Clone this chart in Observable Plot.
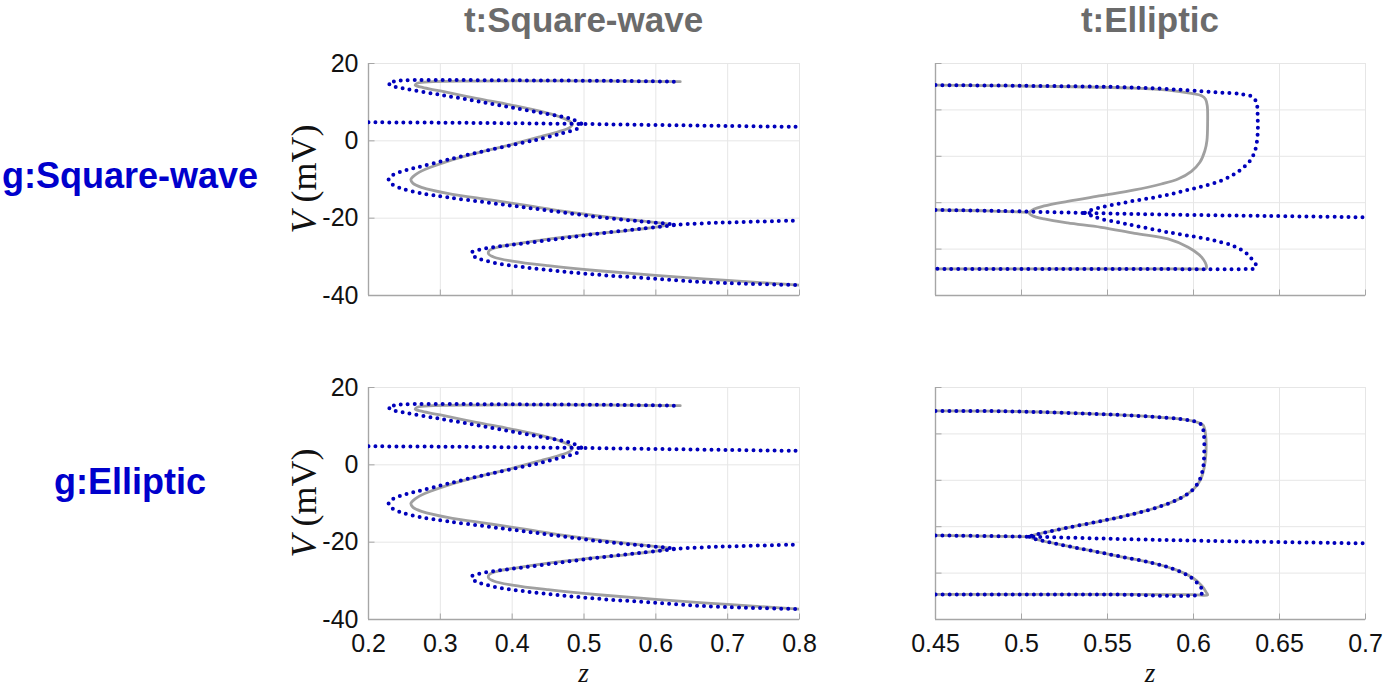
<!DOCTYPE html>
<html>
<head>
<meta charset="utf-8">
<script src="https://cdn.jsdelivr.net/npm/d3@7"></script>
<script src="https://cdn.jsdelivr.net/npm/@observablehq/plot@0.6"></script>
<style>
  html, body { margin: 0; padding: 0; background: #fff; }
  #root { position: relative; width: 1383px; height: 688px; overflow: hidden; background: #fff; }
  #root svg { position: absolute; }
</style>
</head>
<body>
<div id="root"></div>
<script>
// ---------------- labels ----------------
const columnTitles = ["t:Square-wave", "t:Elliptic"];
const rowTitles = ["g:Square-wave", "g:Elliptic"];
const yLabelMain = "V", yLabelUnit = " (mV)", xLabel = "z";

// ---------------- ticks ----------------
const sqXTicks = [0.2, 0.3, 0.4, 0.5, 0.6, 0.7, 0.8];
const sqYTicks = [20, 0, -20, -40];
const elXTicks = [0.45, 0.5, 0.55, 0.6, 0.65, 0.7];
const elYTicks = [20, 10, 0, -10, -20, -30];
const sqXDomain = [0.2, 0.8], sqYDomain = [-40, 20];
const elXDomain = [0.45, 0.7], elYDomain = [-30, 20];

// ---------------- t:Square-wave column (same in both rows) : [z, V] ----------------
const sqBlueUpper = [[0.625,15.3],[0.55,15.5],[0.45,15.6],[0.35,15.7],[0.28,15.75],[0.25,15.65],[0.235,15.35],[0.228,14.9],[0.232,14.3],[0.25,13.5],[0.3,11.9],[0.35,10.3],[0.4,8.6],[0.45,6.9],[0.48,5.8],[0.496,4.5]];
const sqBlueCrossTop = [[0.2,4.8],[0.3,4.7],[0.4,4.55],[0.5,4.35],[0.6,4.1],[0.7,3.85],[0.8,3.6]];
const sqBlueMiddle = [[0.496,4.4],[0.492,3.3],[0.47,2.0],[0.444,0.7],[0.417,-0.4],[0.363,-2.55],[0.31,-4.9],[0.267,-6.9],[0.243,-8.1],[0.231,-9.2],[0.228,-10.0],[0.232,-11.1],[0.2455,-12.3],[0.272,-13.5],[0.31,-14.6],[0.363,-15.9],[0.417,-17.2],[0.47,-18.5],[0.524,-19.8],[0.578,-20.8],[0.625,-21.6]];
const sqBlueCrossLow = [[0.625,-21.7],[0.685,-21.2],[0.8,-20.6]];
const sqBlueLower = [[0.625,-21.8],[0.578,-22.8],[0.524,-23.9],[0.47,-25.2],[0.417,-26.5],[0.374,-27.5],[0.353,-28.2],[0.344,-28.8],[0.345,-29.6],[0.353,-30.4],[0.374,-31.5],[0.417,-32.7],[0.47,-33.8],[0.524,-34.7],[0.578,-35.4],[0.631,-36.1],[0.685,-36.7],[0.8,-37.3]];
const sqGray = [[0.634,15.3],[0.55,15.45],[0.45,15.5],[0.35,15.45],[0.29,15.3],[0.268,14.9],[0.265,14.4],[0.275,13.8],[0.3,12.9],[0.35,11.0],[0.4,9.2],[0.44,7.6],[0.465,6.3],[0.479,5.2],[0.484,4.3],[0.48,3.4],[0.465,2.4],[0.44,1.1],[0.4,-0.9],[0.35,-3.2],[0.31,-5.3],[0.28,-7.3],[0.265,-8.8],[0.259,-10.0],[0.262,-11.0],[0.275,-12.1],[0.31,-13.6],[0.37,-15.3],[0.42,-16.7],[0.47,-18.2],[0.52,-19.4],[0.57,-20.5],[0.605,-21.2],[0.618,-21.6],[0.605,-22.2],[0.56,-23.2],[0.5,-24.3],[0.45,-25.4],[0.41,-26.5],[0.38,-27.5],[0.368,-28.4],[0.367,-29.2],[0.375,-30.1],[0.4,-31.1],[0.45,-32.3],[0.52,-33.6],[0.6,-34.8],[0.7,-36.1],[0.8,-37.3]];

// ---------------- t:Elliptic column, row g:Square-wave ----------------
const elSqBlueUpper = [[0.45,15.34],[0.5,15.2],[0.5658,14.83],[0.595,14.26],[0.6144,13.76],[0.628,13.4],[0.6348,12.68],[0.6368,11.25],[0.6373,8.38],[0.6373,4.79],[0.6358,1.2],[0.6329,-0.95],[0.628,-2.74],[0.6222,-4.18],[0.6144,-5.47],[0.6047,-6.54],[0.595,-7.4],[0.5852,-8.27],[0.5755,-8.98],[0.5658,-9.56],[0.556,-10.27],[0.5463,-10.99],[0.5395,-11.7],[0.5366,-12.21]];
const elSqBlueLower = [[0.5366,-12.21],[0.5405,-12.79],[0.5463,-13.5],[0.556,-14.22],[0.5658,-14.94],[0.5852,-16.37],[0.6047,-17.59],[0.6163,-18.52],[0.6241,-19.46],[0.63,-20.68],[0.6338,-22.11],[0.6364,-23.55],[0.6355,-24.15],[0.631,-24.3],[0.58,-24.3],[0.5,-24.28],[0.45,-24.26]];
const elSqBlueCross = [[0.45,-11.57],[0.488,-11.78],[0.5366,-12.21],[0.5852,-12.57],[0.6436,-12.86],[0.7,-13.14]];
const elSqGray = [[0.45,15.34],[0.5,15.15],[0.5658,14.69],[0.5852,14.26],[0.5988,13.54],[0.6047,13.04],[0.607,12.32],[0.608,10.9],[0.6082,6.94],[0.6078,3.36],[0.6066,1.2],[0.6037,-1.3],[0.5988,-3.24],[0.591,-4.89],[0.5813,-5.97],[0.5658,-7.26],[0.5463,-8.48],[0.5268,-9.7],[0.5132,-10.7],[0.5064,-11.57],[0.5045,-12.21],[0.5064,-12.79],[0.5132,-13.5],[0.5268,-14.36],[0.5463,-15.3],[0.5658,-16.59],[0.5852,-17.8],[0.5969,-19.6],[0.6047,-21.75],[0.6076,-23.9],[0.6072,-24.26],[0.6,-24.26],[0.45,-24.26]];
const elSqGrayCross = [[0.45,-11.57],[0.48,-11.75],[0.5045,-12.1]];

// ---------------- t:Elliptic column, row g:Elliptic ----------------
const elElBlueUpper = [[0.45,14.96],[0.488,14.89],[0.5268,14.53],[0.556,14.1],[0.5774,13.67],[0.593,13.17],[0.6008,12.66],[0.6047,11.94],[0.606,9.93],[0.6062,5.61],[0.6056,2.73],[0.6037,0.22],[0.5998,-1.94],[0.593,-3.74],[0.5813,-5.54],[0.5658,-7.19],[0.5463,-8.78],[0.5268,-10.21],[0.5132,-11.29],[0.5064,-11.87],[0.5045,-12.16]];
const elElBlueLower = [[0.5045,-12.16],[0.5074,-12.59],[0.5171,-13.45],[0.5366,-14.89],[0.556,-16.33],[0.5755,-17.77],[0.5891,-19.21],[0.5988,-21.0],[0.6037,-22.8],[0.6056,-24.03],[0.6037,-24.6],[0.55,-24.6],[0.45,-24.6]];
const elElBlueCross = [[0.45,-11.87],[0.5045,-12.16],[0.5658,-12.73],[0.6241,-13.16],[0.7,-13.6]];
const elElGray = [[0.45,14.96],[0.488,14.89],[0.5268,14.53],[0.556,14.1],[0.5774,13.67],[0.593,13.17],[0.601,12.66],[0.6055,11.94],[0.607,9.93],[0.6072,5.61],[0.6062,2.73],[0.6042,0.22],[0.6,-1.94],[0.593,-3.74],[0.5813,-5.54],[0.5658,-7.19],[0.5463,-8.78],[0.5268,-10.21],[0.5132,-11.29],[0.5064,-11.87],[0.5045,-12.16],[0.5074,-12.59],[0.5171,-13.45],[0.5366,-14.89],[0.556,-16.33],[0.5755,-17.77],[0.5891,-19.21],[0.5995,-21.0],[0.605,-22.8],[0.6075,-24.2],[0.6082,-24.7],[0.6,-24.62],[0.55,-24.6],[0.45,-24.6]];
const elElGrayCross = [[0.45,-11.87],[0.5045,-12.16]];

// ---------------- layout ----------------
const root = document.getElementById("root");
const colLeft = [368, 935], colWidth = [431, 430];
const rowTop = [63, 387], panelH = 232;
const axisColor = "#a6a6a6", gridColor = "#e6e6e6";
const blueColor = "#0000bb", grayColor = "#a0a0a0";

function panel(cfg) {
  const {blue, gray, xDomain, yDomain, xTicks, yTicks, showX, showY, left, top, w, h} = cfg;
  const mL = 100, mR = 20, mT = 10, mB = 50;
  const tickLenY = 6 / h * (yDomain[1] - yDomain[0]);
  const tickLenX = 6 / w * (xDomain[1] - xDomain[0]);
  const marks = [
    Plot.gridX(xTicks, {stroke: gridColor, strokeOpacity: 1, strokeWidth: 1}),
    Plot.gridY(yTicks, {stroke: gridColor, strokeOpacity: 1, strokeWidth: 1}),
    Plot.link(xTicks, {x1: d => d, x2: d => d, y1: () => yDomain[0], y2: () => yDomain[0] + tickLenY, stroke: axisColor}),
    Plot.link(yTicks, {y1: d => d, y2: d => d, x1: () => xDomain[0], x2: () => xDomain[0] + tickLenX, stroke: axisColor}),
    Plot.ruleX([xDomain[0]], {stroke: axisColor, strokeWidth: 1.4}),
    Plot.ruleY([yDomain[0]], {stroke: axisColor, strokeWidth: 1.4})
  ];
  gray.forEach(seg => marks.push(Plot.line(seg, {x: d => d[0], y: d => d[1], stroke: grayColor, strokeWidth: 2.8, curve: "catmull-rom", clip: true})));
  blue.forEach(seg => marks.push(Plot.line(seg, {x: d => d[0], y: d => d[1], stroke: blueColor, strokeWidth: 4, strokeDasharray: "0 7", strokeLinecap: "round", curve: "catmull-rom", clip: true})));
  if (showX) marks.push(Plot.axisX(xTicks, {anchor: "bottom", tickSize: 0, tickPadding: 15, tickFormat: d => String(d), label: null, fontSize: 25}));
  if (showY) marks.push(Plot.axisY(yTicks, {anchor: "left", tickSize: 0, tickPadding: 10, tickFormat: d => String(d), label: null, fontSize: 25}));
  const svg = Plot.plot({
    width: mL + w + mR, height: mT + h + mB,
    marginLeft: mL, marginRight: mR, marginTop: mT, marginBottom: mB,
    x: Object.assign({domain: xDomain}, showX ? {} : {axis: null}),
    y: Object.assign({domain: yDomain}, showY ? {} : {axis: null}),
    style: {fontFamily: "'Liberation Sans', Arial, sans-serif", fontSize: "25px", color: "#111", background: "transparent", overflow: "visible"},
    marks
  });
  svg.style.left = (left - mL) + "px";
  svg.style.top = (top - mT) + "px";
  root.append(svg);
}

panel({blue: [sqBlueUpper, sqBlueCrossTop, sqBlueMiddle, sqBlueCrossLow, sqBlueLower], gray: [sqGray],
  xDomain: sqXDomain, yDomain: sqYDomain, xTicks: sqXTicks, yTicks: sqYTicks, showX: false, showY: true,
  left: colLeft[0], top: rowTop[0], w: colWidth[0], h: panelH});
panel({blue: [elSqBlueUpper, elSqBlueLower, elSqBlueCross], gray: [elSqGrayCross, elSqGray],
  xDomain: elXDomain, yDomain: elYDomain, xTicks: elXTicks, yTicks: elYTicks, showX: false, showY: false,
  left: colLeft[1], top: rowTop[0], w: colWidth[1], h: panelH});
panel({blue: [sqBlueUpper, sqBlueCrossTop, sqBlueMiddle, sqBlueCrossLow, sqBlueLower], gray: [sqGray],
  xDomain: sqXDomain, yDomain: sqYDomain, xTicks: sqXTicks, yTicks: sqYTicks, showX: true, showY: true,
  left: colLeft[0], top: rowTop[1], w: colWidth[0], h: panelH});
panel({blue: [elElBlueUpper, elElBlueLower, elElBlueCross], gray: [elElGrayCross, elElGray],
  xDomain: elXDomain, yDomain: elYDomain, xTicks: elXTicks, yTicks: elYTicks, showX: true, showY: false,
  left: colLeft[1], top: rowTop[1], w: colWidth[1], h: panelH});

// ---------------- overlay texts ----------------
const ov = d3.select(root).append("svg")
  .attr("width", 1383).attr("height", 688)
  .style("left", "0px").style("top", "0px").style("pointer-events", "none");
const sans = "'Liberation Sans', Arial, sans-serif";
const serif = "'Liberation Serif', 'Times New Roman', serif";
columnTitles.forEach((t, i) => {
  ov.append("text").attr("x", colLeft[i] + colWidth[i] / 2).attr("y", 32)
    .attr("text-anchor", "middle").attr("font-family", sans).attr("font-weight", "bold")
    .attr("font-size", 35).attr("fill", "#6b6b6b").text(t);
});
const rowBase = [188, 494];
rowTitles.forEach((t, i) => {
  ov.append("text").attr("x", 130).attr("y", rowBase[i])
    .attr("text-anchor", "middle").attr("font-family", sans).attr("font-weight", "bold")
    .attr("font-size", 36).attr("fill", "#0000cc").text(t);
});
rowTop.forEach(top => {
  const t = ov.append("text").attr("transform", `translate(316,${top + panelH / 2}) rotate(-90)`)
    .attr("text-anchor", "middle").attr("font-family", serif).attr("font-size", 36).attr("fill", "#111");
  t.append("tspan").attr("font-style", "italic").text(yLabelMain);
  t.append("tspan").text(yLabelUnit);
});
colLeft.forEach((l, i) => {
  ov.append("text").attr("x", l + colWidth[i] / 2).attr("y", 682)
    .attr("text-anchor", "middle").attr("font-family", serif).attr("font-style", "italic")
    .attr("font-size", 27).attr("fill", "#111").text(xLabel);
});
</script>
</body>
</html>
